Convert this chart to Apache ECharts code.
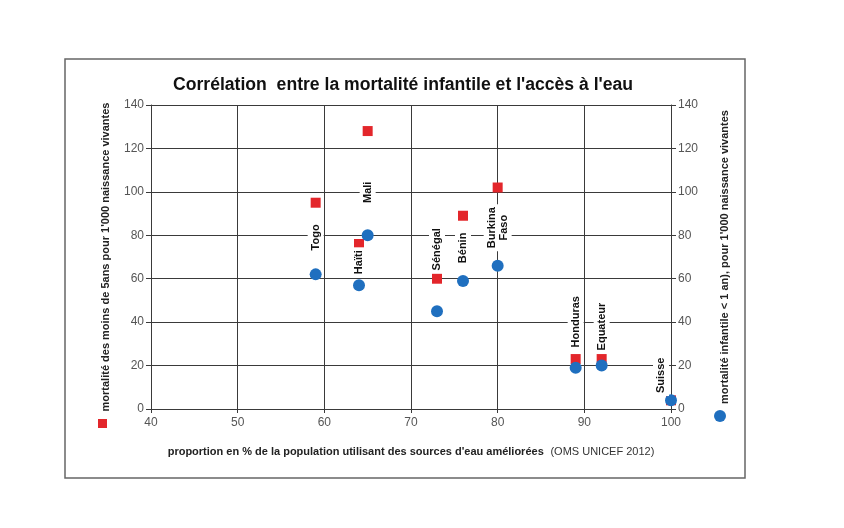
<!DOCTYPE html>
<html><head><meta charset="utf-8">
<script src="https://cdn.jsdelivr.net/npm/echarts@6/dist/echarts.min.js"></script>
<style>html,body{margin:0;padding:0;background:#fff}#c{width:844px;height:528px}</style>
</head><body><div id="c"></div>
<script>
// ---- data ----
const countries = ['Togo', 'Haïti', 'Mali', 'Sénégal', 'Bénin', 'Burkina\nFaso', 'Honduras', 'Equateur', 'Suisse'];
const waterAccess = [59, 64, 65, 73, 76, 80, 89, 92, 100];
const under5Mortality = [95, 76, 128, 60, 89, 102, 23, 23, 4];
const infantMortality = [62, 57, 80, 45, 59, 66, 19, 20, 4];
const xTickLabels = ['40', '50', '60', '70', '80', '90', '100'];
const yTickLabels = ['0', '20', '40', '60', '80', '100', '120', '140'];
const seriesNames = ["mortalité des moins de 5ans pour 1'000 naissance vivantes",
                     "mortalité infantile < 1 an), pour 1'000 naissance vivantes"];

// ---- layout (pixel offsets of country labels relative to the blue point) ----
const labelOffsets = [[0,-37],[0,-23],[0,-43],[0,-62],[0,-33],[0,-38],[0,-46],[0,-39],[-10,-25]];

const FONT = '"Liberation Sans", Arial, sans-serif';
const AX = '#3a3a3a';
const RED = '#e3262b';
const BLUE = '#1f6fbf';

const chart = echarts.init(document.getElementById('c'));
const pts = (ys) => waterAccess.map((x, i) => [x, ys[i]]);

const option = {
  animation: false,
  backgroundColor: '#fff',
  textStyle: { fontFamily: FONT },
  title: {
    text: "Corrélation  entre la mortalité infantile et l'accès à l'eau",
    left: 168, top: 71,
    textStyle: { fontSize: 17.6, fontWeight: 'bold', color: '#111', fontFamily: FONT }
  },
  grid: { left: 151, right: 173, top: 105, bottom: 119, containLabel: false },
  legend: [
    { data: [seriesNames[0]], left: 98, top: 419, icon: 'rect', itemWidth: 9, itemHeight: 9,
      formatter: () => '', itemGap: 0, padding: 0, selectedMode: false },
    { data: [seriesNames[1]], left: 714, top: 410, icon: 'circle', itemWidth: 12, itemHeight: 12,
      formatter: () => '', itemGap: 0, padding: 0, selectedMode: false }
  ],
  xAxis: {
    type: 'value', min: 40, max: 100, interval: 10,
    axisLine: { show: true, lineStyle: { color: AX, width: 1 } },
    axisTick: { show: true, length: 4, lineStyle: { color: AX } },
    axisLabel: { color: '#555', fontSize: 12, margin: 8,
      formatter: (v) => xTickLabels[Math.round((v - 40) / 10)] },
    splitLine: { show: true, lineStyle: { color: AX, width: 1 } },
    name: "{b|proportion en % de la population utilisant des sources d'eau améliorées}  {n|(OMS UNICEF 2012)}",
    nameLocation: 'middle', nameGap: 37,
    nameTextStyle: { rich: {
      b: { fontWeight: 'bold', fontSize: 11, color: '#222', fontFamily: FONT },
      n: { fontSize: 11, color: '#333', fontFamily: FONT }
    } }
  },
  yAxis: [
    {
      type: 'value', min: 0, max: 140, interval: 20, position: 'left',
      axisLine: { show: true, lineStyle: { color: AX, width: 1 } },
      axisTick: { show: true, length: 5, lineStyle: { color: AX } },
      axisLabel: { color: '#555', fontSize: 12, margin: 7,
        formatter: (v) => yTickLabels[Math.round(v / 20)] },
      splitLine: { show: true, lineStyle: { color: AX, width: 1 } },
      name: seriesNames[0], nameLocation: 'middle', nameRotate: 90, nameGap: 40,
      nameTextStyle: { fontWeight: 'bold', fontSize: 11, color: '#222', fontFamily: FONT }
    },
    {
      type: 'value', min: 0, max: 140, interval: 20, position: 'right',
      axisLine: { show: true, lineStyle: { color: AX, width: 1 } },
      axisTick: { show: true, length: 5, lineStyle: { color: AX } },
      axisLabel: { color: '#555', fontSize: 12, margin: 7,
        formatter: (v) => yTickLabels[Math.round(v / 20)] },
      splitLine: { show: false },
      name: seriesNames[1], nameLocation: 'middle', nameRotate: 90, nameGap: 48,
      nameTextStyle: { fontWeight: 'bold', fontSize: 11, color: '#222', fontFamily: FONT }
    }
  ],
  series: [
    { name: seriesNames[0], type: 'scatter', yAxisIndex: 0, data: pts(under5Mortality),
      symbol: 'rect', symbolSize: 10, itemStyle: { color: RED, opacity: 1 }, z: 3 },
    { name: seriesNames[1], type: 'scatter', yAxisIndex: 1, data: pts(infantMortality),
      symbol: 'circle', symbolSize: 12, itemStyle: { color: BLUE, opacity: 1 }, z: 4 }
  ],
  graphic: [
    { type: 'rect', shape: { x: 65, y: 59, width: 680, height: 419 }, silent: true, z: 0,
      style: { fill: 'none', stroke: '#666', lineWidth: 1.5 } }
  ]
};
chart.setOption(option);

// country labels, placed from the blue points' pixel positions
const labelGraphics = countries.map((name, i) => {
  const p = chart.convertToPixel({ xAxisIndex: 0, yAxisIndex: 1 }, [waterAccess[i], infantMortality[i]]);
  return {
    type: 'text', x: p[0] + labelOffsets[i][0], y: p[1] + labelOffsets[i][1],
    rotation: Math.PI / 2, z: 5, silent: true,
    style: { text: name, fontSize: 11, fontWeight: 'bold', fill: '#111', fontFamily: FONT,
      align: 'center', verticalAlign: 'middle', lineHeight: 12,
      backgroundColor: '#fff', padding: [2, 3] }
  };
});
chart.setOption({ graphic: option.graphic.concat(labelGraphics) });
</script>
</body></html>
